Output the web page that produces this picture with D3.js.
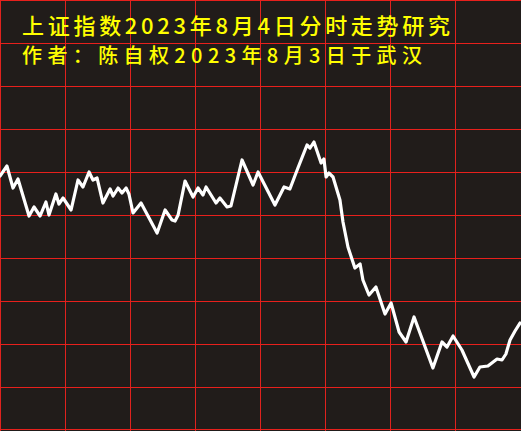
<!DOCTYPE html>
<html>
<head>
<meta charset="utf-8">
<script src="https://cdn.jsdelivr.net/npm/d3@7"></script>
<style>
html,body{margin:0;padding:0;background:#211c1a;}
svg{display:block;}
</style>
</head>
<body>
<script>
// Title lines
const titleLines = ["上证指数2023年8月4日分时走势研究", "作者：陈自权2023年8月3日于武汉"];
// Minutes since open (0..240)
const minutes = [0,3.2,6,8.3,13.4,15.7,18.5,21.2,22.6,25.8,27.2,29.1,32.8,36,38.3,41.1,42.9,44.8,47.5,50.8,52.2,54.5,56.3,58.2,59.5,61.4,65.1,72.5,76.2,79.4,80.8,82.2,85.4,89.1,91.4,93.7,95.1,99.7,101.5,104.8,106.6,111.7,116.8,119.1,126.9,131.1,133.8,137.5,141.7,143.1,144.9,148.2,149.5,150.5,151.8,153.7,156.9,158.3,160.6,163.8,166.2,167.5,170.3,173.5,177.7,180.5,184.2,187.4,191.1,199.8,204,206.3,209.1,213.2,218.8,221.5,225.2,229.4,231.7,233.5,235.4,237.7,240];
// Index values
const values = [3274.8,3276.8,3272.4,3274.2,3266.8,3268.6,3266.8,3269.6,3267.0,3271.2,3269.2,3270.4,3268.0,3274.0,3272.6,3275.6,3274.0,3274.4,3269.4,3272.2,3270.8,3272.4,3271.4,3272.4,3271.2,3267.4,3269.4,3263.4,3268.0,3266.0,3265.8,3267.0,3273.8,3270.6,3272.4,3271.0,3272.6,3269.4,3270.4,3268.6,3268.8,3278.0,3273.0,3275.6,3269.0,3272.6,3272.2,3276.4,3281.0,3280.4,3281.6,3277.4,3278.2,3274.6,3275.4,3274.6,3270.0,3265.6,3260.6,3256.4,3257.2,3254.0,3251.0,3252.6,3247.2,3249.4,3243.6,3241.6,3246.6,3236.4,3241.6,3240.6,3242.8,3240.0,3234.6,3236.6,3236.8,3238.2,3238.0,3239.2,3242.0,3243.8,3245.4];
const xGridCount = 8;
const yGridCount = 10;

const W = 521, H = 431;
const svg = d3.select("body").append("svg").attr("width", W).attr("height", H);
svg.append("rect").attr("width", W).attr("height", H).attr("fill", "#211c1a");

const x = d3.scaleLinear().domain([0, 240]).range([0, 520]);
const y = d3.scaleLinear().domain([3224, 3310]).range([430, 0]);
const gx = d3.scaleLinear().domain([0, xGridCount]).range([0, 520]);
const gy = d3.scaleLinear().domain([0, yGridCount]).range([0, 430]);

const grid = svg.append("g").attr("stroke-width", 1.3).attr("shape-rendering", "crispEdges");
grid.selectAll("line.v").data(d3.range(xGridCount)).join("line")
  .attr("class", "v").attr("y1", 0).attr("y2", 431)
  .attr("x1", d => gx(d) + 0.5).attr("x2", d => gx(d) + 0.5)
  .attr("stroke", "#e0221e");
grid.selectAll("line.h").data(d3.range(yGridCount + 1)).join("line")
  .attr("class", "h").attr("x1", 0).attr("x2", 521)
  .attr("stroke", "#e8201c")
  .attr("y1", d => Math.min(gy(d), 429) + 0.5).attr("y2", d => Math.min(gy(d), 429) + 0.5);

const pts = minutes.map((m, i) => [m, values[i]]);
svg.append("path").datum(pts)
  .attr("fill", "none").attr("stroke", "#ffffff").attr("stroke-width", 3.2)
  .attr("stroke-linejoin", "round").attr("stroke-linecap", "round")
  .attr("d", d3.line().x(d => x(d[0])).y(d => y(d[1])));

const t = svg.append("g").attr("fill", "#ffff00").attr("font-family", "'Noto Sans CJK SC', sans-serif").attr("font-weight", 500);
t.append("text").attr("x", 22).attr("y", 34).attr("font-size", 22)
  .attr("textLength", 428).attr("lengthAdjust", "spacing").text(titleLines[0]);
t.append("text").attr("x", 22).attr("y", 63).attr("font-size", 20)
  .attr("textLength", 400).attr("lengthAdjust", "spacing").text(titleLines[1]);
</script>
</body>
</html>
